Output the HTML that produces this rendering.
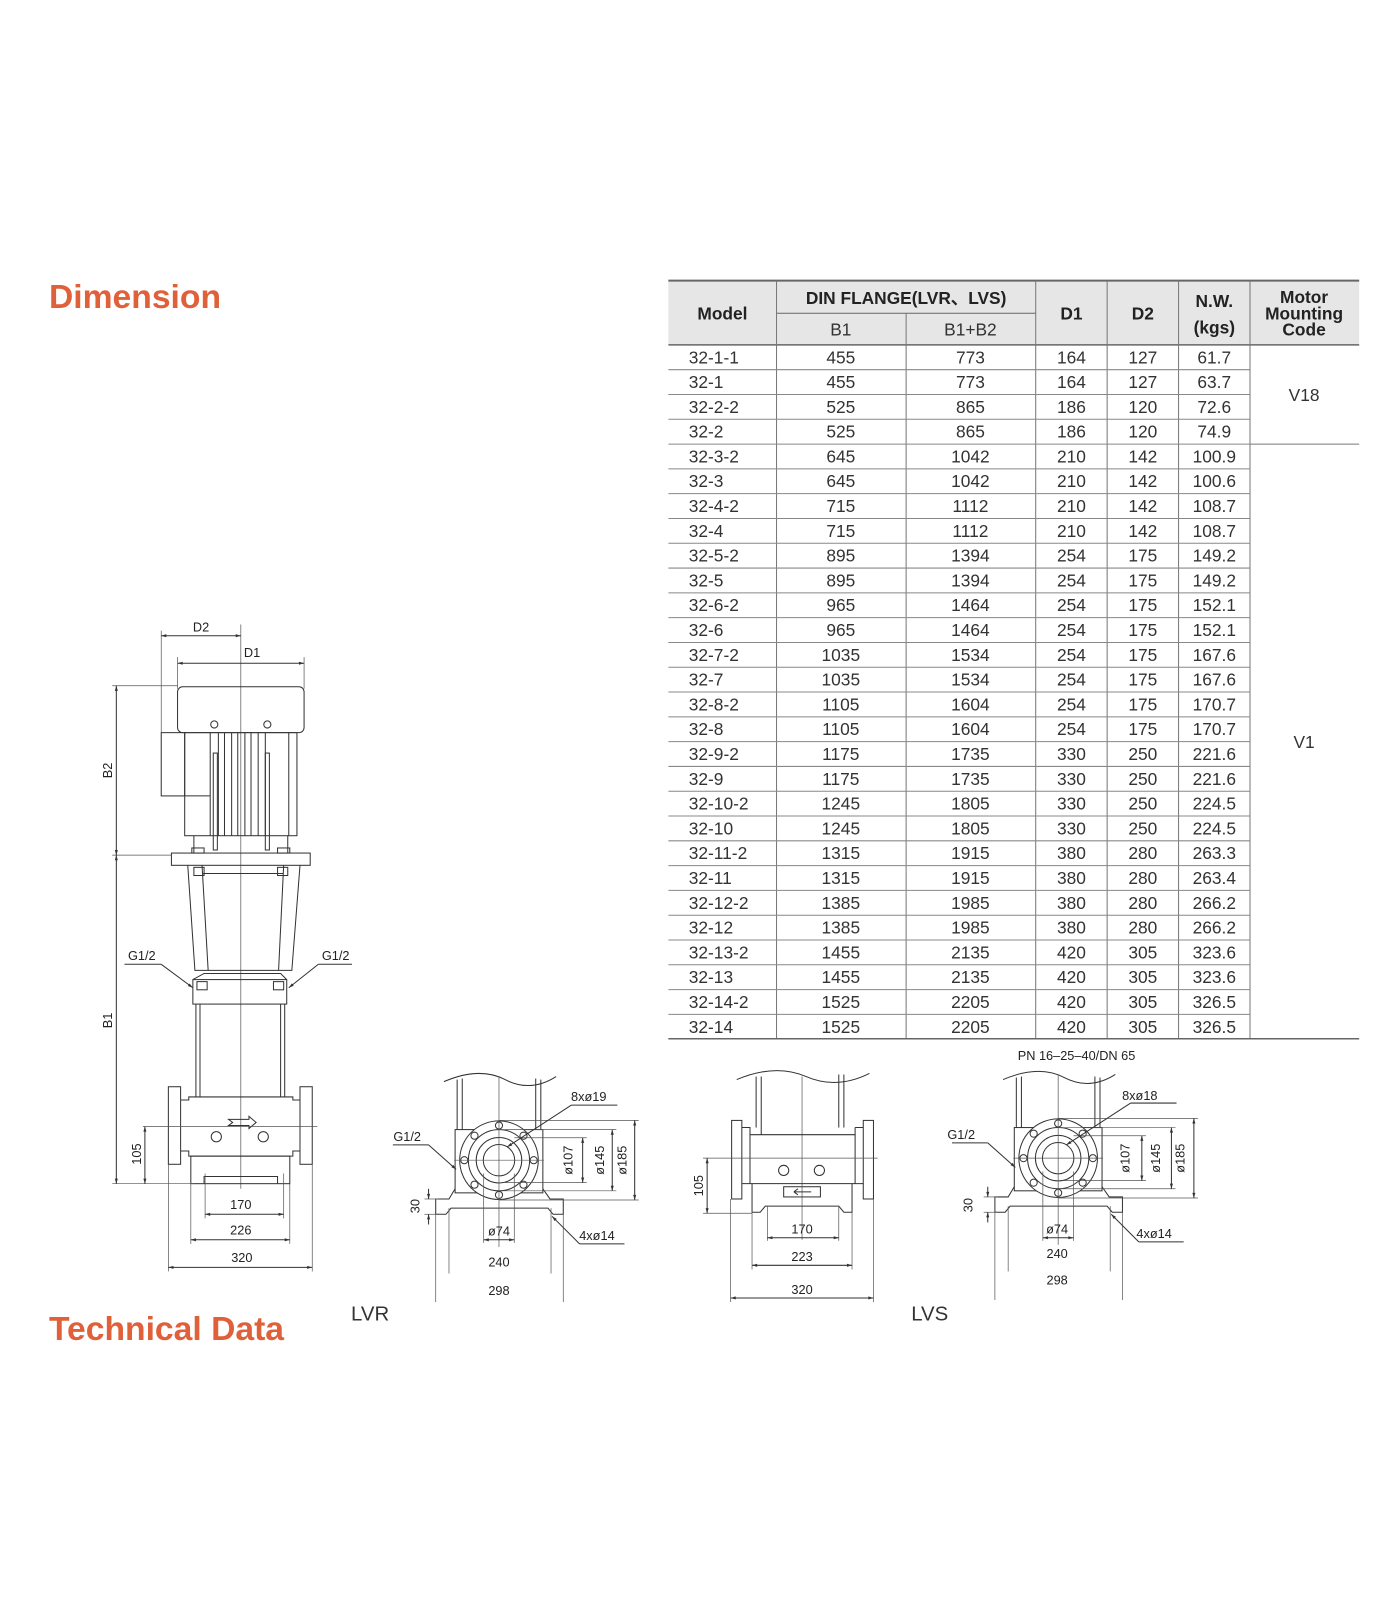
<!DOCTYPE html>
<html><head><meta charset="utf-8"><style>
html,body{margin:0;padding:0;background:#fff;}
svg{display:block;}
text{font-family:"Liberation Sans",sans-serif;}
.t{font-size:17px;fill:#333;text-anchor:middle;}
.tl{font-size:17px;fill:#333;}
.h{font-size:17px;font-weight:bold;fill:#222;text-anchor:middle;}
.d{font-size:12.5px;fill:#222;text-anchor:middle;}
.dr{fill:none;stroke:#333;stroke-width:1;}
.tn{fill:none;stroke:#555;stroke-width:0.7;}
</style></head><body>
<svg width="1400" height="1600" viewBox="0 0 1372 1568" xmlns="http://www.w3.org/2000/svg">
<defs>
<marker id="a" viewBox="0 0 10 10" refX="10" refY="5" markerWidth="7" markerHeight="5" orient="auto-start-reverse"><path d="M0,2 L10,5 L0,8 z" fill="#333"/></marker>
<g id="flange">
 <path class="dr" d="M435,1060 Q470,1045 495,1058 T545,1055"/>
 <line class="dr" x1="448" y1="1058" x2="448" y2="1107"/><line class="dr" x1="453" y1="1057" x2="453" y2="1107"/>
 <line class="dr" x1="525" y1="1057" x2="525" y2="1107"/><line class="dr" x1="530" y1="1058" x2="530" y2="1107"/>
 <rect class="dr" x="446" y="1107" width="86" height="62"/>
 <path class="dr" d="M446,1165 L440,1175 L427,1175 L427,1190 L437,1190 L442,1184 L537,1184 L542,1190 L552,1190 L552,1175 L539,1175 L532,1165"/>
 <circle cx="489" cy="1137" r="38.5" fill="#fff" stroke="#333"/>
 <circle class="dr" cx="489" cy="1137" r="30"/>
 <circle class="dr" cx="489" cy="1137" r="22.3"/>
 <circle class="dr" cx="489" cy="1137" r="15.4"/>
 <g class="dr">
  <circle cx="489" cy="1103" r="3.5"/><circle cx="489" cy="1171" r="3.5"/><circle cx="455" cy="1137" r="3.5"/><circle cx="523" cy="1137" r="3.5"/>
  <circle cx="465" cy="1113" r="3.5"/><circle cx="513" cy="1113" r="3.5"/><circle cx="465" cy="1161" r="3.5"/><circle cx="513" cy="1161" r="3.5"/>
 </g>
 <line class="tn" x1="489" y1="1055" x2="489" y2="1222"/>
 <line class="tn" x1="445" y1="1137" x2="533" y2="1137"/>
 <line class="tn" x1="504" y1="1115" x2="575" y2="1115"/><line class="tn" x1="495" y1="1159" x2="575" y2="1159"/>
 <line class="tn" x1="489" y1="1107" x2="604" y2="1107"/><line class="tn" x1="489" y1="1167" x2="604" y2="1167"/>
 <line class="tn" x1="489" y1="1098" x2="626" y2="1098"/><line class="tn" x1="489" y1="1176" x2="626" y2="1176"/>
 <line class="dr" x1="571" y1="1115" x2="571" y2="1159" marker-start="url(#a)" marker-end="url(#a)"/>
 <line class="dr" x1="600" y1="1107" x2="600" y2="1167" marker-start="url(#a)" marker-end="url(#a)"/>
 <line class="dr" x1="622" y1="1098" x2="622" y2="1176" marker-start="url(#a)" marker-end="url(#a)"/>
 <line class="tn" x1="416" y1="1175" x2="430" y2="1175"/><line class="tn" x1="416" y1="1190" x2="430" y2="1190"/>
 <line class="dr" x1="420" y1="1165" x2="420" y2="1175" marker-end="url(#a)"/><line class="dr" x1="420" y1="1200" x2="420" y2="1190" marker-end="url(#a)"/>
 <line class="tn" x1="474" y1="1150" x2="474" y2="1218"/><line class="tn" x1="504" y1="1150" x2="504" y2="1218"/>
 <line class="dr" x1="474" y1="1215" x2="504" y2="1215" marker-start="url(#a)" marker-end="url(#a)"/>
 <line class="tn" x1="440" y1="1184" x2="440" y2="1248"/><line class="tn" x1="540" y1="1184" x2="540" y2="1248"/>
 <line class="tn" x1="427" y1="1190" x2="427" y2="1276"/><line class="tn" x1="552" y1="1190" x2="552" y2="1276"/>
 <line class="dr" x1="385" y1="1122" x2="420" y2="1122"/><line class="dr" x1="420" y1="1122" x2="447" y2="1146" marker-end="url(#a)"/>
 <line class="dr" x1="560" y1="1083" x2="605" y2="1083"/><line class="dr" x1="560" y1="1083" x2="497" y2="1124" marker-end="url(#a)"/>
 <line class="dr" x1="568" y1="1219" x2="612" y2="1219"/><line class="dr" x1="568" y1="1219" x2="541" y2="1192" marker-end="url(#a)"/>
</g>
</defs>

<text x="48" y="302" font-size="33" font-weight="bold" fill="#e0603a">Dimension</text>
<text x="48" y="1313" font-size="33" font-weight="bold" fill="#e0603a">Technical Data</text>

<!-- TABLE -->
<rect x="655" y="275" width="677" height="63" fill="#e6e6e6"/>
<line x1="655" y1="275" x2="1332" y2="275" stroke="#666" stroke-width="2"/>
<line x1="655" y1="338" x2="1332" y2="338" stroke="#666" stroke-width="1.5"/>
<line x1="761" y1="307" x2="1015" y2="307" stroke="#666"/>
<g stroke="#777" stroke-width="1">
<line x1="761" y1="275" x2="761" y2="1018"/><line x1="888" y1="307" x2="888" y2="1018"/>
<line x1="1015" y1="275" x2="1015" y2="1018"/><line x1="1085" y1="275" x2="1085" y2="1018"/>
<line x1="1155" y1="275" x2="1155" y2="1018"/><line x1="1225" y1="275" x2="1225" y2="1018"/>
</g>
<line x1="655" y1="1018" x2="1332" y2="1018" stroke="#666" stroke-width="1.5"/>
<line x1="1225" y1="435.2" x2="1332" y2="435.2" stroke="#777"/>
<g stroke="#888" stroke-width="1">
<line x1="655" y1="362.3" x2="1225" y2="362.3"/><line x1="655" y1="386.6" x2="1225" y2="386.6"/><line x1="655" y1="410.9" x2="1225" y2="410.9"/><line x1="655" y1="435.2" x2="1225" y2="435.2"/><line x1="655" y1="459.5" x2="1225" y2="459.5"/><line x1="655" y1="483.8" x2="1225" y2="483.8"/><line x1="655" y1="508.1" x2="1225" y2="508.1"/><line x1="655" y1="532.4" x2="1225" y2="532.4"/><line x1="655" y1="556.7" x2="1225" y2="556.7"/><line x1="655" y1="581" x2="1225" y2="581"/><line x1="655" y1="605.3" x2="1225" y2="605.3"/><line x1="655" y1="629.6" x2="1225" y2="629.6"/><line x1="655" y1="653.9" x2="1225" y2="653.9"/><line x1="655" y1="678.2" x2="1225" y2="678.2"/><line x1="655" y1="702.5" x2="1225" y2="702.5"/><line x1="655" y1="726.8" x2="1225" y2="726.8"/><line x1="655" y1="751.1" x2="1225" y2="751.1"/><line x1="655" y1="775.4" x2="1225" y2="775.4"/><line x1="655" y1="799.7" x2="1225" y2="799.7"/><line x1="655" y1="824" x2="1225" y2="824"/><line x1="655" y1="848.3" x2="1225" y2="848.3"/><line x1="655" y1="872.6" x2="1225" y2="872.6"/><line x1="655" y1="896.9" x2="1225" y2="896.9"/><line x1="655" y1="921.2" x2="1225" y2="921.2"/><line x1="655" y1="945.5" x2="1225" y2="945.5"/><line x1="655" y1="969.8" x2="1225" y2="969.8"/><line x1="655" y1="994.1" x2="1225" y2="994.1"/>
</g>
<text class="h" x="708" y="313">Model</text>
<text class="h" x="888" y="298">DIN FLANGE(LVR、LVS)</text>
<text class="t" x="824" y="329">B1</text>
<text class="t" x="951" y="329">B1+B2</text>
<text class="h" x="1050" y="313">D1</text>
<text class="h" x="1120" y="313">D2</text>
<text class="h" x="1190" y="301">N.W.</text>
<text class="h" x="1190" y="327">(kgs)</text>
<text class="h" x="1278" y="297">Motor</text>
<text class="h" x="1278" y="313">Mounting</text>
<text class="h" x="1278" y="329">Code</text>
<text class="t" x="1278" y="393">V18</text>
<text class="t" x="1278" y="733">V1</text>
<g>
<text class="tl" x="675" y="356">32-1-1</text><text class="t" x="824" y="356">455</text><text class="t" x="951" y="356">773</text><text class="t" x="1050" y="356">164</text><text class="t" x="1120" y="356">127</text><text class="t" x="1190" y="356">61.7</text>
<text class="tl" x="675" y="380.3">32-1</text><text class="t" x="824" y="380.3">455</text><text class="t" x="951" y="380.3">773</text><text class="t" x="1050" y="380.3">164</text><text class="t" x="1120" y="380.3">127</text><text class="t" x="1190" y="380.3">63.7</text>
<text class="tl" x="675" y="404.6">32-2-2</text><text class="t" x="824" y="404.6">525</text><text class="t" x="951" y="404.6">865</text><text class="t" x="1050" y="404.6">186</text><text class="t" x="1120" y="404.6">120</text><text class="t" x="1190" y="404.6">72.6</text>
<text class="tl" x="675" y="428.9">32-2</text><text class="t" x="824" y="428.9">525</text><text class="t" x="951" y="428.9">865</text><text class="t" x="1050" y="428.9">186</text><text class="t" x="1120" y="428.9">120</text><text class="t" x="1190" y="428.9">74.9</text>
<text class="tl" x="675" y="453.2">32-3-2</text><text class="t" x="824" y="453.2">645</text><text class="t" x="951" y="453.2">1042</text><text class="t" x="1050" y="453.2">210</text><text class="t" x="1120" y="453.2">142</text><text class="t" x="1190" y="453.2">100.9</text>
<text class="tl" x="675" y="477.5">32-3</text><text class="t" x="824" y="477.5">645</text><text class="t" x="951" y="477.5">1042</text><text class="t" x="1050" y="477.5">210</text><text class="t" x="1120" y="477.5">142</text><text class="t" x="1190" y="477.5">100.6</text>
<text class="tl" x="675" y="501.8">32-4-2</text><text class="t" x="824" y="501.8">715</text><text class="t" x="951" y="501.8">1112</text><text class="t" x="1050" y="501.8">210</text><text class="t" x="1120" y="501.8">142</text><text class="t" x="1190" y="501.8">108.7</text>
<text class="tl" x="675" y="526.1">32-4</text><text class="t" x="824" y="526.1">715</text><text class="t" x="951" y="526.1">1112</text><text class="t" x="1050" y="526.1">210</text><text class="t" x="1120" y="526.1">142</text><text class="t" x="1190" y="526.1">108.7</text>
<text class="tl" x="675" y="550.4">32-5-2</text><text class="t" x="824" y="550.4">895</text><text class="t" x="951" y="550.4">1394</text><text class="t" x="1050" y="550.4">254</text><text class="t" x="1120" y="550.4">175</text><text class="t" x="1190" y="550.4">149.2</text>
<text class="tl" x="675" y="574.7">32-5</text><text class="t" x="824" y="574.7">895</text><text class="t" x="951" y="574.7">1394</text><text class="t" x="1050" y="574.7">254</text><text class="t" x="1120" y="574.7">175</text><text class="t" x="1190" y="574.7">149.2</text>
<text class="tl" x="675" y="599">32-6-2</text><text class="t" x="824" y="599">965</text><text class="t" x="951" y="599">1464</text><text class="t" x="1050" y="599">254</text><text class="t" x="1120" y="599">175</text><text class="t" x="1190" y="599">152.1</text>
<text class="tl" x="675" y="623.3">32-6</text><text class="t" x="824" y="623.3">965</text><text class="t" x="951" y="623.3">1464</text><text class="t" x="1050" y="623.3">254</text><text class="t" x="1120" y="623.3">175</text><text class="t" x="1190" y="623.3">152.1</text>
<text class="tl" x="675" y="647.6">32-7-2</text><text class="t" x="824" y="647.6">1035</text><text class="t" x="951" y="647.6">1534</text><text class="t" x="1050" y="647.6">254</text><text class="t" x="1120" y="647.6">175</text><text class="t" x="1190" y="647.6">167.6</text>
<text class="tl" x="675" y="671.9">32-7</text><text class="t" x="824" y="671.9">1035</text><text class="t" x="951" y="671.9">1534</text><text class="t" x="1050" y="671.9">254</text><text class="t" x="1120" y="671.9">175</text><text class="t" x="1190" y="671.9">167.6</text>
<text class="tl" x="675" y="696.2">32-8-2</text><text class="t" x="824" y="696.2">1105</text><text class="t" x="951" y="696.2">1604</text><text class="t" x="1050" y="696.2">254</text><text class="t" x="1120" y="696.2">175</text><text class="t" x="1190" y="696.2">170.7</text>
<text class="tl" x="675" y="720.5">32-8</text><text class="t" x="824" y="720.5">1105</text><text class="t" x="951" y="720.5">1604</text><text class="t" x="1050" y="720.5">254</text><text class="t" x="1120" y="720.5">175</text><text class="t" x="1190" y="720.5">170.7</text>
<text class="tl" x="675" y="744.8">32-9-2</text><text class="t" x="824" y="744.8">1175</text><text class="t" x="951" y="744.8">1735</text><text class="t" x="1050" y="744.8">330</text><text class="t" x="1120" y="744.8">250</text><text class="t" x="1190" y="744.8">221.6</text>
<text class="tl" x="675" y="769.1">32-9</text><text class="t" x="824" y="769.1">1175</text><text class="t" x="951" y="769.1">1735</text><text class="t" x="1050" y="769.1">330</text><text class="t" x="1120" y="769.1">250</text><text class="t" x="1190" y="769.1">221.6</text>
<text class="tl" x="675" y="793.4">32-10-2</text><text class="t" x="824" y="793.4">1245</text><text class="t" x="951" y="793.4">1805</text><text class="t" x="1050" y="793.4">330</text><text class="t" x="1120" y="793.4">250</text><text class="t" x="1190" y="793.4">224.5</text>
<text class="tl" x="675" y="817.7">32-10</text><text class="t" x="824" y="817.7">1245</text><text class="t" x="951" y="817.7">1805</text><text class="t" x="1050" y="817.7">330</text><text class="t" x="1120" y="817.7">250</text><text class="t" x="1190" y="817.7">224.5</text>
<text class="tl" x="675" y="842">32-11-2</text><text class="t" x="824" y="842">1315</text><text class="t" x="951" y="842">1915</text><text class="t" x="1050" y="842">380</text><text class="t" x="1120" y="842">280</text><text class="t" x="1190" y="842">263.3</text>
<text class="tl" x="675" y="866.3">32-11</text><text class="t" x="824" y="866.3">1315</text><text class="t" x="951" y="866.3">1915</text><text class="t" x="1050" y="866.3">380</text><text class="t" x="1120" y="866.3">280</text><text class="t" x="1190" y="866.3">263.4</text>
<text class="tl" x="675" y="890.6">32-12-2</text><text class="t" x="824" y="890.6">1385</text><text class="t" x="951" y="890.6">1985</text><text class="t" x="1050" y="890.6">380</text><text class="t" x="1120" y="890.6">280</text><text class="t" x="1190" y="890.6">266.2</text>
<text class="tl" x="675" y="914.9">32-12</text><text class="t" x="824" y="914.9">1385</text><text class="t" x="951" y="914.9">1985</text><text class="t" x="1050" y="914.9">380</text><text class="t" x="1120" y="914.9">280</text><text class="t" x="1190" y="914.9">266.2</text>
<text class="tl" x="675" y="939.2">32-13-2</text><text class="t" x="824" y="939.2">1455</text><text class="t" x="951" y="939.2">2135</text><text class="t" x="1050" y="939.2">420</text><text class="t" x="1120" y="939.2">305</text><text class="t" x="1190" y="939.2">323.6</text>
<text class="tl" x="675" y="963.5">32-13</text><text class="t" x="824" y="963.5">1455</text><text class="t" x="951" y="963.5">2135</text><text class="t" x="1050" y="963.5">420</text><text class="t" x="1120" y="963.5">305</text><text class="t" x="1190" y="963.5">323.6</text>
<text class="tl" x="675" y="987.8">32-14-2</text><text class="t" x="824" y="987.8">1525</text><text class="t" x="951" y="987.8">2205</text><text class="t" x="1050" y="987.8">420</text><text class="t" x="1120" y="987.8">305</text><text class="t" x="1190" y="987.8">326.5</text>
<text class="tl" x="675" y="1012.1">32-14</text><text class="t" x="824" y="1012.1">1525</text><text class="t" x="951" y="1012.1">2205</text><text class="t" x="1050" y="1012.1">420</text><text class="t" x="1120" y="1012.1">305</text><text class="t" x="1190" y="1012.1">326.5</text>
</g>

<!-- MAIN PUMP DRAWING -->
<g>
 <line class="tn" x1="236" y1="612" x2="236" y2="1165"/>
 <line class="tn" x1="158" y1="618" x2="158" y2="718"/><line class="tn" x1="174" y1="644" x2="174" y2="675"/><line class="tn" x1="298" y1="644" x2="298" y2="675"/>
 <line class="dr" x1="158" y1="623" x2="236" y2="623" marker-start="url(#a)" marker-end="url(#a)"/>
 <line class="dr" x1="174" y1="650" x2="298" y2="650" marker-start="url(#a)" marker-end="url(#a)"/>
 <text class="d" x="197" y="619">D2</text><text class="d" x="247" y="644">D1</text>
 <rect class="dr" x="174" y="673" width="124" height="45" rx="5"/>
 <rect class="dr" x="158" y="718" width="23" height="62"/>
 <rect class="dr" x="181" y="718" width="110" height="101"/>
 <line class="dr" x1="206" y1="718" x2="206" y2="819"/><line class="dr" x1="181" y1="780" x2="206" y2="780"/>
 <g class="dr">
 <line x1="214" y1="718" x2="214" y2="819"/><line x1="220" y1="718" x2="220" y2="819"/><line x1="227" y1="718" x2="227" y2="819"/><line x1="233" y1="718" x2="233" y2="819"/><line x1="240" y1="718" x2="240" y2="819"/><line x1="246" y1="718" x2="246" y2="819"/><line x1="253" y1="718" x2="253" y2="819"/><line x1="260" y1="718" x2="260" y2="819"/><line x1="283" y1="718" x2="283" y2="819"/>
 <rect x="209" y="738" width="4" height="95"/><rect x="260" y="738" width="4" height="95"/>
 </g>
 <circle class="dr" cx="210" cy="710" r="3.5"/><circle class="dr" cx="262" cy="710" r="3.5"/>
 <path class="dr" d="M190,819 L190,836 M282,819 L282,836"/>
 <rect class="dr" x="188" y="831" width="12" height="5"/><rect class="dr" x="272" y="831" width="12" height="5"/>
 <rect class="dr" x="168" y="836" width="136" height="12"/>
 <path class="dr" d="M184,848 L191,951 L286,951 L294,848"/>
 <path class="dr" d="M198,848 L204,951 M278,848 L273,951 M198,856 L278,856"/>
 <rect class="dr" x="190" y="850" width="10" height="8"/><rect class="dr" x="272" y="850" width="10" height="8"/>
 <rect class="dr" x="189" y="960" width="92" height="24"/>
 <path class="dr" d="M189,960 L200,954 L275,954 L281,960"/>
 <rect class="dr" x="193" y="962" width="10" height="8"/><rect class="dr" x="268" y="962" width="10" height="8"/>
 <line class="dr" x1="192" y1="984" x2="192" y2="1075"/><line class="dr" x1="196" y1="984" x2="196" y2="1075"/>
 <line class="dr" x1="275" y1="984" x2="275" y2="1075"/><line class="dr" x1="279" y1="984" x2="279" y2="1075"/>
 <rect class="dr" x="165" y="1065" width="12" height="76"/><rect class="dr" x="294" y="1065" width="12" height="76"/>
 <path class="dr" d="M177,1078 L185,1078 L185,1075 L287,1075 L287,1078 L294,1078 M177,1128 L185,1128 L185,1133 L287,1133 L287,1128 L294,1128"/>
 <rect class="dr" x="187" y="1133" width="97" height="27"/>
 <path class="dr" d="M200,1160 L200,1153 L272,1153 L272,1160"/>
 <circle class="dr" cx="212" cy="1114" r="5"/><circle class="dr" cx="258" cy="1114" r="5"/>
 <path class="dr" d="M224,1097 L244,1097 L244,1094 L251,1100 L244,1106 L244,1103 L224,1103 L228,1100 Z"/>
 <line class="tn" x1="140" y1="1104" x2="311" y2="1104"/>
 <line class="tn" x1="110" y1="672" x2="174" y2="672"/><line class="tn" x1="110" y1="838" x2="168" y2="838"/><line class="tn" x1="110" y1="1160" x2="190" y2="1160"/>
 <line class="dr" x1="114" y1="672" x2="114" y2="838" marker-start="url(#a)" marker-end="url(#a)"/>
 <line class="dr" x1="114" y1="838" x2="114" y2="1160" marker-start="url(#a)" marker-end="url(#a)"/>
 <line class="dr" x1="142" y1="1104" x2="142" y2="1160" marker-start="url(#a)" marker-end="url(#a)"/>
 <text class="d" transform="translate(110,755) rotate(-90)">B2</text>
 <text class="d" transform="translate(110,1000) rotate(-90)">B1</text>
 <text class="d" transform="translate(138,1131) rotate(-90)">105</text>
 <line class="tn" x1="201" y1="1150" x2="201" y2="1194"/><line class="tn" x1="278" y1="1150" x2="278" y2="1194"/>
 <line class="tn" x1="187" y1="1160" x2="187" y2="1219"/><line class="tn" x1="284" y1="1160" x2="284" y2="1219"/>
 <line class="tn" x1="165" y1="1141" x2="165" y2="1246"/><line class="tn" x1="306" y1="1141" x2="306" y2="1246"/>
 <line class="dr" x1="201" y1="1190" x2="278" y2="1190" marker-start="url(#a)" marker-end="url(#a)"/>
 <line class="dr" x1="187" y1="1215" x2="284" y2="1215" marker-start="url(#a)" marker-end="url(#a)"/>
 <line class="dr" x1="165" y1="1242" x2="306" y2="1242" marker-start="url(#a)" marker-end="url(#a)"/>
 <text class="d" x="236" y="1185">170</text><text class="d" x="236" y="1210">226</text><text class="d" x="237" y="1237">320</text>
 <line class="dr" x1="122" y1="945" x2="158" y2="945"/><line class="dr" x1="158" y1="945" x2="189" y2="968" marker-end="url(#a)"/>
 <line class="dr" x1="312" y1="945" x2="345" y2="945"/><line class="dr" x1="312" y1="945" x2="283" y2="968" marker-end="url(#a)"/>
 <text class="d" x="139" y="941">G1/2</text><text class="d" x="329" y="941">G1/2</text>
</g>

<!-- LVR -->
<use href="#flange"/>
<text class="d" x="399" y="1118">G1/2</text>
<text class="d" x="577" y="1079">8xø19</text>
<text class="d" x="585" y="1215">4xø14</text>
<text class="d" transform="translate(561,1137) rotate(-90)">ø107</text>
<text class="d" transform="translate(592,1137) rotate(-90)">ø145</text>
<text class="d" transform="translate(614,1137) rotate(-90)">ø185</text>
<text class="d" transform="translate(411,1182) rotate(-90)">30</text>
<text class="d" x="489" y="1211">ø74</text>
<text class="d" x="489" y="1241">240</text>
<text class="d" x="489" y="1269">298</text>
<text x="344" y="1294" font-size="20" fill="#333">LVR</text>

<!-- LVS side view -->
<g>
 <path class="dr" d="M722,1058 Q760,1042 790,1055 T852,1052"/>
 <line class="dr" x1="741" y1="1055" x2="741" y2="1105"/><line class="dr" x1="746" y1="1055" x2="746" y2="1105"/>
 <line class="dr" x1="822" y1="1053" x2="822" y2="1105"/><line class="dr" x1="827" y1="1053" x2="827" y2="1105"/>
 <line class="tn" x1="786" y1="1055" x2="786" y2="1215"/>
 <rect class="dr" x="717" y="1098" width="10" height="77"/><rect class="dr" x="846" y="1098" width="10" height="77"/>
 <path class="dr" d="M727,1105 L735,1105 L735,1112 L746,1112 L746,1105 M838,1105 L838,1112 L827,1112 M846,1105 L838,1105 M746,1112 L827,1112"/>
 <path class="dr" d="M727,1160 L846,1160 M735,1112 L735,1160 M838,1112 L838,1160"/>
 <path class="dr" d="M737,1160 L737,1188 L745,1188 L750,1182 L822,1182 L827,1188 L835,1188 L835,1160"/>
 <rect class="dr" x="768" y="1163" width="36" height="10"/>
 <path class="dr" d="M778,1168 L795,1168 M778,1168 L782,1165 M778,1168 L782,1171"/>
 <circle class="dr" cx="768" cy="1147" r="5"/><circle class="dr" cx="803" cy="1147" r="5"/>
 <line class="tn" x1="689" y1="1135" x2="860" y2="1135"/><line class="tn" x1="689" y1="1189" x2="737" y2="1189"/>
 <line class="dr" x1="693" y1="1135" x2="693" y2="1189" marker-start="url(#a)" marker-end="url(#a)"/>
 <text class="d" transform="translate(689,1162) rotate(-90)">105</text>
 <line class="tn" x1="752" y1="1182" x2="752" y2="1216"/><line class="tn" x1="822" y1="1182" x2="822" y2="1216"/>
 <line class="tn" x1="737" y1="1188" x2="737" y2="1244"/><line class="tn" x1="835" y1="1188" x2="835" y2="1244"/>
 <line class="tn" x1="716" y1="1175" x2="716" y2="1276"/><line class="tn" x1="856" y1="1175" x2="856" y2="1276"/>
 <line class="dr" x1="752" y1="1213" x2="822" y2="1213" marker-start="url(#a)" marker-end="url(#a)"/>
 <line class="dr" x1="737" y1="1240" x2="835" y2="1240" marker-start="url(#a)" marker-end="url(#a)"/>
 <line class="dr" x1="716" y1="1272" x2="856" y2="1272" marker-start="url(#a)" marker-end="url(#a)"/>
 <text class="d" x="786" y="1209">170</text><text class="d" x="786" y="1236">223</text><text class="d" x="786" y="1268">320</text>
</g>

<!-- LVS flange view -->
<g transform="translate(548,-2)"><use href="#flange"/></g>
<text class="d" x="1055" y="1039">PN 16–25–40/DN 65</text>
<text class="d" x="942" y="1116">G1/2</text>
<text class="d" x="1117" y="1078">8xø18</text>
<text class="d" x="1131" y="1213">4xø14</text>
<text class="d" transform="translate(1107,1135) rotate(-90)">ø107</text>
<text class="d" transform="translate(1137,1135) rotate(-90)">ø145</text>
<text class="d" transform="translate(1161,1135) rotate(-90)">ø185</text>
<text class="d" transform="translate(953,1181) rotate(-90)">30</text>
<text class="d" x="1036" y="1209">ø74</text>
<text class="d" x="1036" y="1233">240</text>
<text class="d" x="1036" y="1259">298</text>
<text x="893" y="1294" font-size="20" fill="#333">LVS</text>
</svg>
</body></html>
